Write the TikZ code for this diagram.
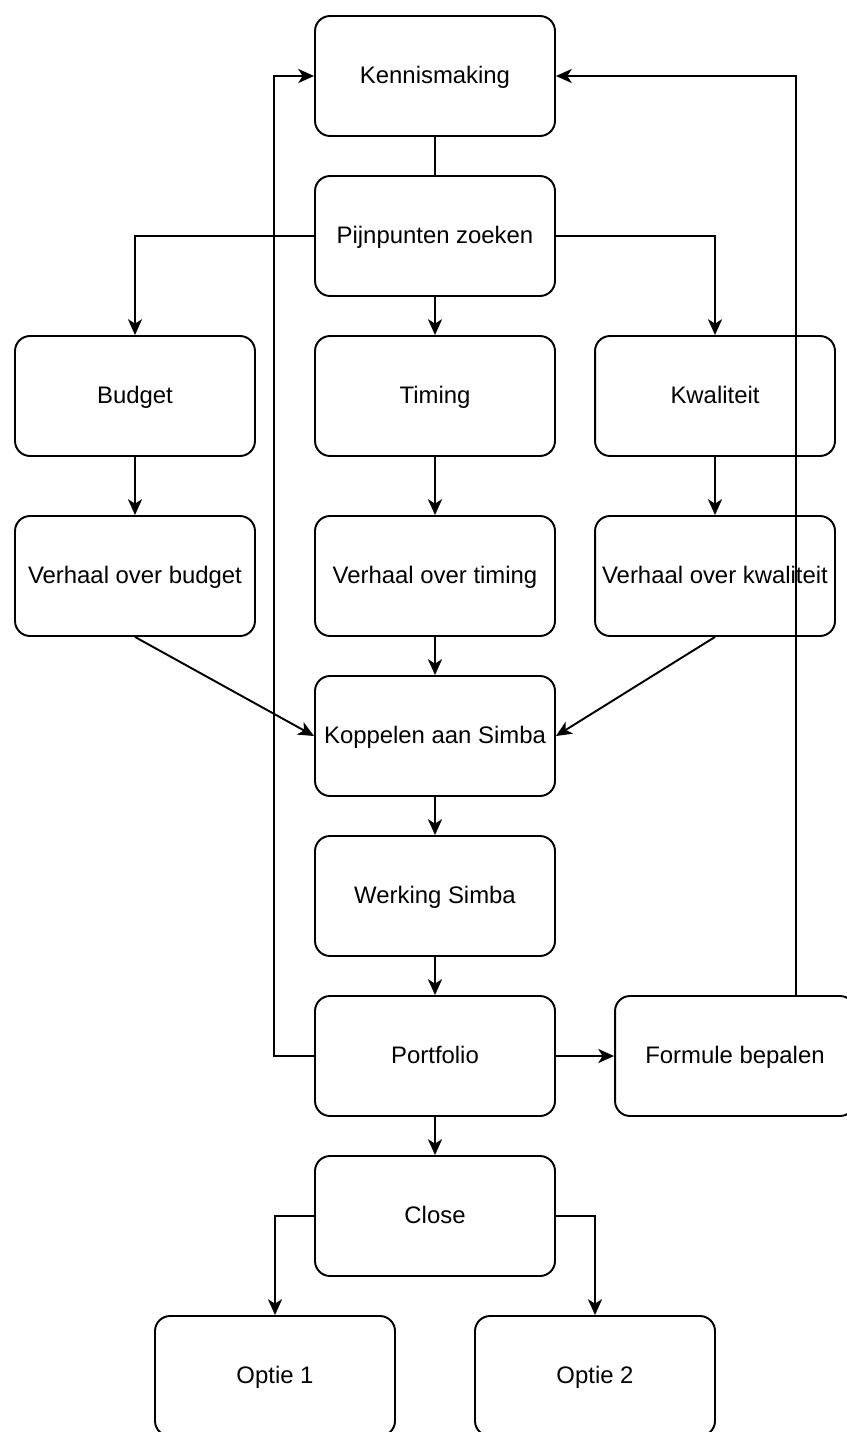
\documentclass[tikz,border=0pt]{standalone}
\usepackage{fontspec}
\setmainfont{Liberation Sans}
\usepackage{tikz}
\usetikzlibrary{arrows.meta, positioning}

\begin{document}
\begin{tikzpicture}[
    x=0.02cm, y=-0.02cm,
    stap/.style={rectangle, draw=black, line width=1.1pt, minimum width=4.8cm, minimum height=2.4cm, align=center, rounded corners=0.3cm, font=\fontsize{13.6}{16}\selectfont, inner sep=0pt, text height=1.0em, text depth=0.14em},
    arrow/.style={-{Stealth[length=9pt, width=8pt, inset=2.5pt]}, line width=1.1pt, draw=black},
    line/.style={line width=1.1pt, draw=black}
]
\useasboundingbox (0,0) rectangle (846,1432);

% Start
\node[stap] (kenn) at (435, 76) {Kennismaking};
\node[stap] (pijn) at (435, 236) {Pijnpunten zoeken};

% Pijnpunten
\node[stap] (budget) at (135, 396) {Budget};
\node[stap] (timing) at (435, 396) {Timing};
\node[stap] (kwal) at (715, 396) {Kwaliteit};

% Verhalen
\node[stap] (vbudget) at (135, 576) {Verhaal over budget};
\node[stap] (vtiming) at (435, 576) {Verhaal over timing};
\node[stap] (vkwal) at (715, 576) {Verhaal over kwaliteit};

% Simba
\node[stap] (koppel) at (435, 736) {Koppelen aan Simba};
\node[stap] (werking) at (435, 896) {Werking Simba};
\node[stap] (portfolio) at (435, 1056) {Portfolio};
\node[stap] (formule) at (735, 1056) {Formule bepalen};

% Afsluiting
\node[stap] (close) at (435, 1216) {Close};
\node[stap] (optie1) at (275, 1376) {Optie 1};
\node[stap] (optie2) at (595, 1376) {Optie 2};

% Connections
\draw[line] (kenn) -- (pijn);
\draw[arrow] (pijn.west) -| (budget.north);
\draw[arrow] (pijn) -- (timing);
\draw[arrow] (pijn.east) -| (kwal.north);

\draw[arrow] (budget) -- (vbudget);
\draw[arrow] (timing) -- (vtiming);
\draw[arrow] (kwal) -- (vkwal);

\draw[arrow] (vbudget.south) -- (koppel.west);
\draw[arrow] (vtiming) -- (koppel);
\draw[arrow] (vkwal.south) -- (koppel.east);

\draw[arrow] (koppel) -- (werking);
\draw[arrow] (werking) -- (portfolio);
\draw[arrow] (portfolio) -- (formule);
\draw[arrow] (portfolio) -- (close);

% Terug naar kennismaking
\draw[arrow] (portfolio.west) -- ++(-40,0) |- (kenn.west);
\draw[arrow] ([xshift=1.22cm]formule.north) |- (kenn.east);

% Opties
\draw[arrow] (close.west) -| (optie1.north);
\draw[arrow] (close.east) -| (optie2.north);

\end{tikzpicture}
\end{document}
